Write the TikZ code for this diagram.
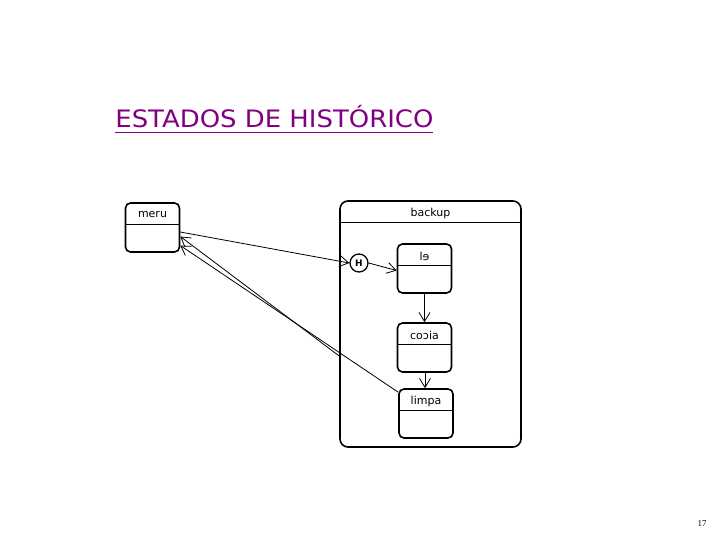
\documentclass[tikz,border=0pt]{standalone}
\usepackage{fontspec}
\setmainfont{DejaVu Sans}
\newfontfamily\titulofont{DejaVu Sans}
\newfontfamily\numfont{Liberation Serif}
\usepackage{tikz}
\usetikzlibrary{arrows.meta, calc}

\definecolor{roxo}{RGB}{128,0,128}

\begin{document}
\begin{tikzpicture}[x=1pt, y=-1pt, line width=0.8pt,
    estado/.style={draw, line width=1.6pt, rounded corners=5pt, minimum width=54pt, minimum height=49pt, inner sep=0pt},
    rotulo/.style={font=\fontsize{11}{12}\selectfont, inner sep=0pt},
    seta/.style={-{Straight Barb[length=9pt, width=11pt]}}]
        \useasboundingbox (0,0) rectangle (720,540);

        % titulo
        \node[anchor=base west, inner sep=0pt, text=roxo, font=\titulofont\fontsize{24}{27}\selectfont] (titulo) at (115,128) {\scalebox{1.08}[1]{ESTADOS DE HISTÓRICO}};
        \draw[roxo, line width=1.8pt] (115,132.5) -- (433,132.5);

        % estado meru
        \node[estado] (meru) at (152.5,227.5) {};
        \node[rotulo] (meru-t) at (152.5,214) {meru};
        \draw ([yshift=-22pt]meru.north west) -- ([yshift=-22pt]meru.north east);

        % estado composto backup
        \node[estado, rounded corners=8pt, minimum width=181pt, minimum height=246pt] (backup) at (430.5,324) {};
        \node[rotulo] (backup-t) at (430.5,213) {backup};
        \draw ([yshift=-22pt]backup.north west) -- ([yshift=-22pt]backup.north east);

        % historico
        \node[draw, circle, line width=1.3pt, minimum size=18pt, inner sep=0pt, font=\bfseries\fontsize{9}{9}\selectfont] (hist) at (359,263) {H};

        % subestados
        \node[estado] (le) at (424.5,268.5) {};
        \node[rotulo] (le-t) at (424.5,256) {lɘ};
        \draw ([yshift=-22pt]le.north west) -- ([yshift=-22pt]le.north east);

        \node[estado] (copia) at (424.5,347.5) {};
        \node[rotulo] (copia-t) at (424.5,335) {coɔia};
        \draw ([yshift=-22pt]copia.north west) -- ([yshift=-22pt]copia.north east);

        \node[estado] (limpa) at (426,413.5) {};
        \node[rotulo] (limpa-t) at (426,401) {limpa};
        \draw ([yshift=-22pt]limpa.north west) -- ([yshift=-22pt]limpa.north east);

        % transicoes
        \draw[seta] ([yshift=-4.5pt]meru.east) -- (hist.west);
        \draw[seta] ([yshift=-32pt]backup.west) -- ([yshift=-9pt]meru.east);
        \draw[seta] ([yshift=-4pt]limpa.north west) -- ([yshift=-18pt]meru.east);
        \draw[seta] (hist.east) -- ([yshift=-2pt]le.west);
        \draw[seta] (le.south) -- (copia.north);
        \draw[seta] ([xshift=0.5pt]copia.south) -- ([xshift=-1pt]limpa.north);

        % numero da pagina
        \node[font=\numfont\fontsize{9}{10}\selectfont, inner sep=0pt] (pagina) at (702,524) {17};
    \end{tikzpicture}
\end{document}
